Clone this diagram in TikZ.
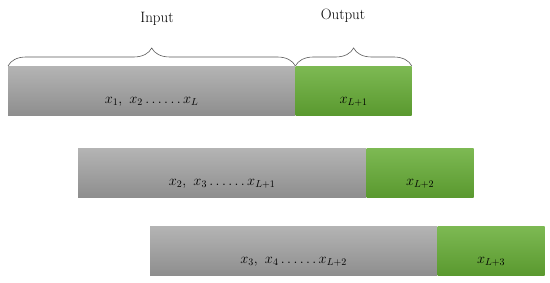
\documentclass[tikz,border=0pt]{standalone}
\usepackage{fontspec}
\usepackage{amsmath,amssymb}
\usepackage{tikz}
\usetikzlibrary{positioning,decorations.pathreplacing}
\usepackage{xcolor}
\definecolor{grtop}{HTML}{B4B4B4}
\definecolor{grbot}{HTML}{8E8E8E}
\definecolor{gntop}{HTML}{7DB953}
\definecolor{gnbot}{HTML}{5A992F}

\begin{document}
\begin{tikzpicture}[x=1pt,y=-1pt,
	inbox/.style={rectangle, inner sep=0pt, minimum height=49pt, minimum width=287pt, top color=grtop, bottom color=grbot, text height=25pt, text depth=0pt, font=\Large},
	outbox/.style={rectangle, inner sep=0pt, minimum height=49pt, top color=gntop, bottom color=gnbot, text height=25pt, text depth=0pt, font=\Large},
	brc/.style={decorate, decoration={brace, amplitude=18pt}, draw=black!65, line width=0.6pt},
	lbl/.style={font=\fontsize{15}{17}\selectfont}]
			\useasboundingbox (0,0) rectangle (550,283);
			% first window
			\node (in1) [inbox, anchor=north west] at (8,66) {$x_1,\ x_2\ldots\ldots x_L$};
			\node (out1) [outbox, minimum width=116pt, right=0 of in1] {$x_{L+1}$};
			% second window
			\node (in2) [inbox, anchor=north west, minimum width=288pt] at (78,148) {$x_2,\ x_3\ldots\ldots x_{L+1}$};
			\node (out2) [outbox, minimum width=107pt, right=0 of in2] {$x_{L+2}$};
			% third window
			\node (in3) [inbox, anchor=north west] at (150,226) {$x_3,\ x_4\ldots\ldots x_{L+2}$};
			\node (out3) [outbox, minimum width=107pt, right=0 of in3] {$x_{L+3}$};
			
			\draw [brc] (in1.north west) -- (in1.north east);
			\draw [brc] (out1.north west) -- (out1.north east);
			\node (inlbl) [lbl] at (157,19) {Input};
			\node (outlbl) [lbl] at (343,16) {Output};
		\end{tikzpicture}
\end{document}
